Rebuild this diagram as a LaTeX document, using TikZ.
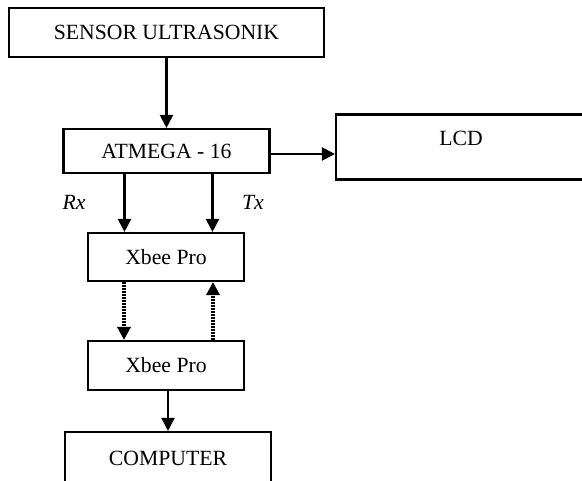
\documentclass[tikz,border=0pt]{standalone}
\usepackage{fontspec}
\setmainfont{Liberation Serif}
\usetikzlibrary{arrows.meta}
\begin{document}
\begin{tikzpicture}[x=1pt,y=-1pt,
  blk/.style={draw, line width=2.1pt, inner sep=0pt, font=\fontsize{21.7}{24}\selectfont},
  arr/.style={line width=2.1pt, -{Triangle[length=13pt,width=13pt]}},
  darr/.style={line width=3.2pt, dash pattern=on 2pt off 1pt, -{Triangle[length=13pt,width=13pt]}},
  lbl/.style={font=\fontsize{21.7}{24}\selectfont\itshape}]
\useasboundingbox (0,0) rectangle (582,481);
\node[blk, minimum width=315pt, minimum height=49pt] (sensor) at (166.5,32.5) {SENSOR ULTRASONIK};
\node[blk, minimum width=206pt, minimum height=44pt] (atmega) at (166.5,151) {ATMEGA - 16};
\node[blk, minimum width=250pt, minimum height=65pt, text height=14pt, text depth=17pt] (lcd) at (461,147) {LCD};
\node[blk, minimum width=156pt, minimum height=48pt] (xbee1) at (166,257) {Xbee Pro};
\node[blk, minimum width=156pt, minimum height=49pt] (xbee2) at (166,365.5) {Xbee Pro};
\node[blk, minimum width=206pt, minimum height=52pt] (comp) at (168,458) {COMPUTER};
\node[lbl] (rx) at (74,202) {Rx};
\node[lbl] (tx) at (253,202) {Tx};
\draw[arr] (sensor.south) -- (atmega.north);
\draw[arr] ([yshift=-3pt]atmega.east) -- ([yshift=-3pt]atmega.east -| lcd.west);
\draw[arr] ([xshift=-42pt]atmega.south) -- ([xshift=-42pt]atmega.south |- xbee1.north);
\draw[arr] ([xshift=46pt]atmega.south) -- ([xshift=46pt]atmega.south |- xbee1.north);
\draw[darr] ([xshift=-42pt]xbee1.south) -- ([xshift=-42pt]xbee1.south |- xbee2.north);
\draw[darr] ([xshift=47pt]xbee2.north) -- ([xshift=47pt]xbee2.north |- xbee1.south);
\draw[arr] ([xshift=2pt]xbee2.south) -- ([xshift=2pt]xbee2.south |- comp.north);
\end{tikzpicture}
\end{document}
